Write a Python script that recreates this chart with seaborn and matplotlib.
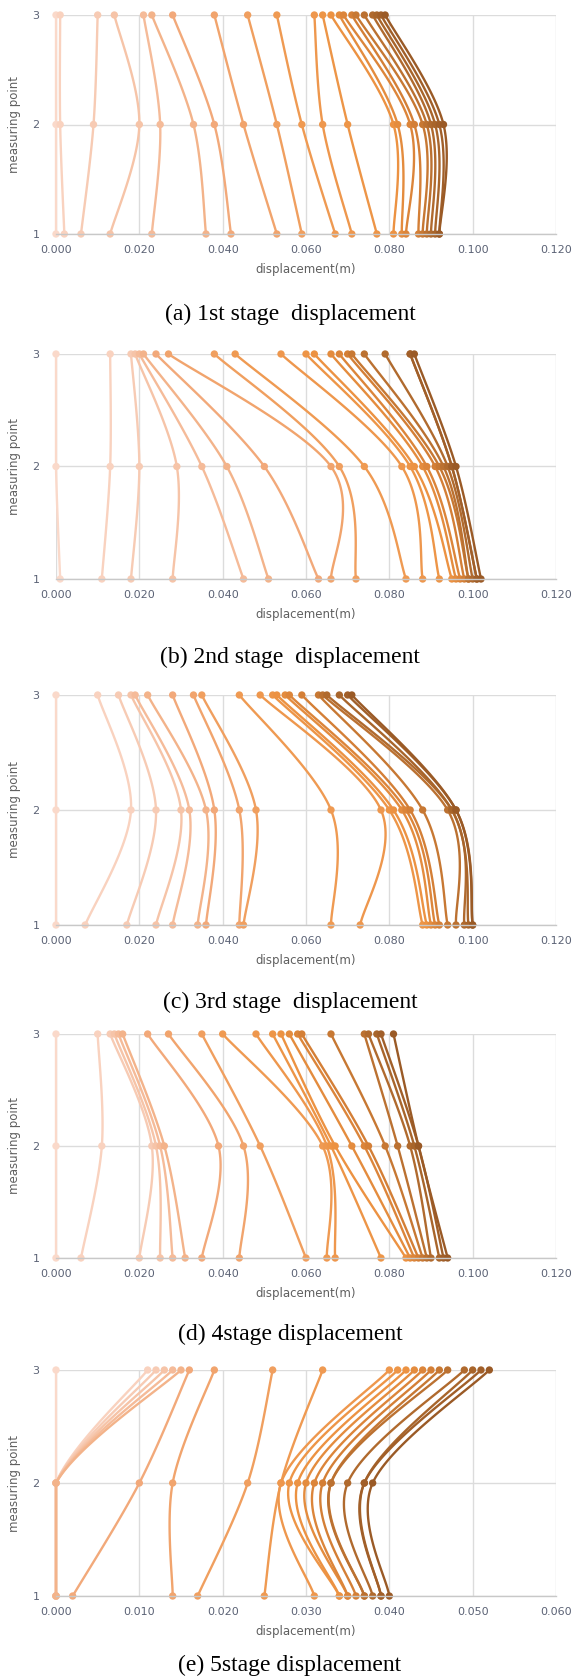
import numpy as np
import pandas as pd
import matplotlib
matplotlib.use("Agg")
import matplotlib.pyplot as plt
import seaborn as sns

# displacement (m) at measuring points 1, 2, 3 for each series, per stage
a_p1 = [0.000, 0.002, 0.006, 0.013, 0.023, 0.036, 0.042, 0.053, 0.059, 0.067, 0.071,
        0.077, 0.081, 0.083, 0.084, 0.087, 0.088, 0.089, 0.090, 0.091, 0.092, 0.092]
a_p2 = [0.000, 0.001, 0.009, 0.020, 0.025, 0.033, 0.038, 0.045, 0.053, 0.059, 0.064,
        0.070, 0.081, 0.082, 0.085, 0.086, 0.088, 0.089, 0.090, 0.091, 0.092, 0.093]
a_p3 = [0.000, 0.001, 0.010, 0.014, 0.021, 0.023, 0.028, 0.038, 0.046, 0.053, 0.062,
        0.064, 0.066, 0.068, 0.069, 0.071, 0.072, 0.074, 0.076, 0.077, 0.078, 0.079]

b_p1 = [0.001, 0.011, 0.018, 0.028, 0.045, 0.051, 0.063, 0.066, 0.072, 0.084, 0.088,
        0.092, 0.095, 0.096, 0.097, 0.098, 0.099, 0.099, 0.100, 0.101, 0.101, 0.102]
b_p2 = [0.000, 0.013, 0.020, 0.029, 0.035, 0.041, 0.050, 0.066, 0.068, 0.074, 0.083,
        0.085, 0.086, 0.088, 0.089, 0.091, 0.092, 0.093, 0.094, 0.095, 0.095, 0.096]
b_p3 = [0.000, 0.013, 0.018, 0.019, 0.020, 0.021, 0.024, 0.027, 0.038, 0.043, 0.054,
        0.060, 0.062, 0.066, 0.068, 0.070, 0.071, 0.074, 0.079, 0.085, 0.085, 0.086]

c_p1 = [0.000, 0.007, 0.017, 0.024, 0.028, 0.034, 0.036, 0.044, 0.045, 0.066, 0.073,
        0.088, 0.089, 0.090, 0.091, 0.092, 0.094, 0.096, 0.098, 0.099, 0.100, 0.100]
c_p2 = [0.000, 0.018, 0.024, 0.030, 0.032, 0.036, 0.038, 0.044, 0.048, 0.066, 0.078,
        0.080, 0.081, 0.083, 0.084, 0.085, 0.088, 0.094, 0.095, 0.095, 0.096, 0.096]
c_p3 = [0.000, 0.010, 0.015, 0.018, 0.019, 0.022, 0.028, 0.033, 0.035, 0.044, 0.049,
        0.052, 0.053, 0.055, 0.056, 0.059, 0.063, 0.064, 0.065, 0.068, 0.070, 0.071]

d_p1 = [0.000, 0.006, 0.020, 0.025, 0.028, 0.031, 0.035, 0.044, 0.060, 0.065, 0.067,
        0.078, 0.084, 0.085, 0.086, 0.087, 0.088, 0.089, 0.090, 0.092, 0.093, 0.094]
d_p2 = [0.000, 0.011, 0.023, 0.024, 0.025, 0.026, 0.039, 0.045, 0.049, 0.064, 0.065,
        0.066, 0.067, 0.071, 0.074, 0.075, 0.079, 0.082, 0.085, 0.086, 0.087, 0.087]
d_p3 = [0.000, 0.010, 0.013, 0.014, 0.015, 0.016, 0.022, 0.027, 0.035, 0.040, 0.048,
        0.052, 0.054, 0.056, 0.058, 0.059, 0.066, 0.074, 0.075, 0.077, 0.078, 0.081]

e_p1 = [0.000, 0.000, 0.000, 0.000, 0.000, 0.000, 0.002, 0.014, 0.017, 0.025, 0.031,
        0.034, 0.034, 0.035, 0.035, 0.036, 0.037, 0.037, 0.038, 0.039, 0.039, 0.040]
e_p2 = [0.000, 0.000, 0.000, 0.000, 0.000, 0.000, 0.010, 0.014, 0.023, 0.027, 0.027,
        0.028, 0.029, 0.030, 0.031, 0.032, 0.033, 0.033, 0.035, 0.037, 0.037, 0.038]
e_p3 = [0.000, 0.011, 0.012, 0.013, 0.014, 0.015, 0.016, 0.019, 0.026, 0.032, 0.040,
        0.041, 0.042, 0.043, 0.044, 0.045, 0.046, 0.047, 0.049, 0.050, 0.051, 0.052]

points = [1, 2, 3]
captions = ["(a) 1st stage  displacement", "(b) 2nd stage  displacement",
            "(c) 3rd stage  displacement", "(d) 4stage displacement",
            "(e) 5stage displacement"]
x_max = [0.12, 0.12, 0.12, 0.12, 0.06]
x_step = [0.02, 0.02, 0.02, 0.02, 0.01]
stages = [(a_p1, a_p2, a_p3), (b_p1, b_p2, b_p3), (c_p1, c_p2, c_p3),
          (d_p1, d_p2, d_p3), (e_p1, e_p2, e_p3)]


def smooth(xs, ys, n=40):
    # Excel-like smoothed line: Catmull-Rom style cubic Bezier segments
    P = np.column_stack([xs, ys]).astype(float)
    out = []
    t = np.linspace(0, 1, n)[:, None]
    for i in range(len(P) - 1):
        p0 = P[i - 1] if i > 0 else P[i]
        p3 = P[i + 2] if i + 2 < len(P) else P[i + 1]
        c1 = P[i] + (P[i + 1] - p0) / 6
        c2 = P[i + 1] - (p3 - P[i]) / 6
        seg = ((1 - t) ** 3) * P[i] + 3 * ((1 - t) ** 2) * t * c1 \
            + 3 * (1 - t) * t ** 2 * c2 + t ** 3 * P[i + 1]
        out.append(seg if i == 0 else seg[1:])
    out = np.vstack(out)
    out[:, 0] = np.clip(out[:, 0], 0, None)  # plot area clips at x = 0
    return out


sns.set_theme(style="white")
plt.rcParams['font.family'] = ['DejaVu Sans']

n_series = len(a_p1)
palette = sns.blend_palette(['#fad9ca', '#f6c4a8', '#f2a97a', '#ef9a52',
                             '#ec9242', '#d47f36', '#b06a2e', '#9a5a26'], n_colors=n_series)

W, H = 582, 1677
fig = plt.figure(figsize=(W / 100, H / 100), dpi=100)

panels = [(15, 234), (354, 579), (695, 925), (1034, 1258), (1370, 1596)]
cap_y = [314, 657, 1002, 1334, 1665]
left, right = 56, 556
tick_col = '#5b6275'

for k, (p1, p2, p3) in enumerate(stages):
    top, bot = panels[k]
    ax = fig.add_axes([left / W, 1 - bot / H, (right - left) / W, (bot - top) / H])
    names = [f"s{i:02d}" for i in range(n_series)]
    curve_rows = []
    pt_rows = []
    for i in range(n_series):
        xs = [p1[i], p2[i], p3[i]]
        cur = smooth(xs, points)
        for x, y in cur:
            curve_rows.append((names[i], x, y))
        for x, y in zip(xs, points):
            pt_rows.append((names[i], x, y))
    curves = pd.DataFrame(curve_rows, columns=['series', 'x', 'y'])
    pts = pd.DataFrame(pt_rows, columns=['series', 'x', 'y'])

    for i, nm in enumerate(names):
        sns.lineplot(data=curves[curves.series == nm], x='x', y='y', color=palette[i],
                     sort=False, estimator=None, linewidth=1.7, ax=ax,
                     zorder=2 + i * 0.01, clip_on=False)
        sns.scatterplot(data=pts[pts.series == nm], x='x', y='y', color=palette[i],
                        s=28, edgecolor='none', linewidth=0, ax=ax,
                        zorder=2.005 + i * 0.01, clip_on=False)

    ax.set_xlim(0, x_max[k])
    ax.set_ylim(1, 3)
    ticks = np.arange(0, x_max[k] + 1e-9, x_step[k])
    ax.set_xticks(ticks)
    ax.set_xticklabels([f"{v:.3f}" for v in ticks])
    ax.set_yticks(points)
    ax.grid(True, color='#dcdcdc', linewidth=1.0)
    ax.set_axisbelow(True)
    for s in ['top', 'left', 'right']:
        ax.spines[s].set_visible(False)
    ax.spines['bottom'].set_color('#c8c8c8')
    ax.spines['bottom'].set_linewidth(1.0)
    ax.tick_params(axis='both', length=0, labelsize=8, labelcolor=tick_col)
    ax.tick_params(axis='x', pad=8)
    ax.tick_params(axis='y', pad=12)
    ax.set_xlabel("displacement(m)", fontsize=8.5, color='#5f5f5f', labelpad=6)
    ax.set_ylabel("measuring point", fontsize=8.5, color='#5f5f5f', labelpad=8)

    fig.text(290 / W, 1 - cap_y[k] / H, captions[k], ha='center', va='center',
             fontsize=17, family=['Liberation Serif'], color='black')

fig.savefig("out.png", dpi=100)
